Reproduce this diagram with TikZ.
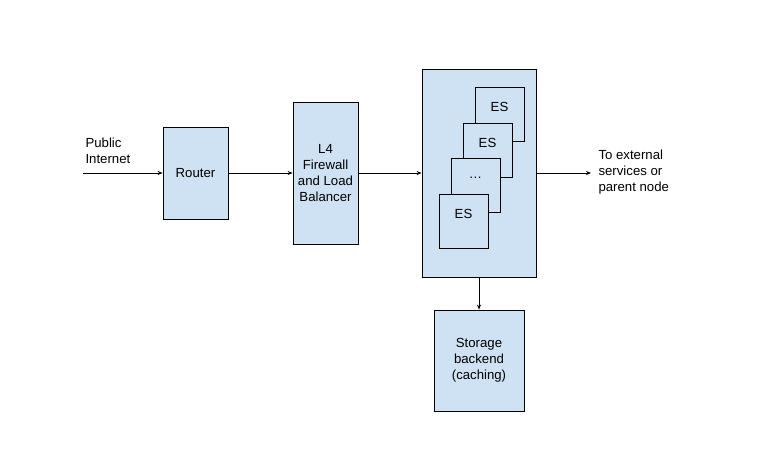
\documentclass[tikz,border=0pt]{standalone}
\usepackage{fontspec}
\setmainfont{Liberation Sans}
\usetikzlibrary{arrows.meta}
\definecolor{boxblue}{HTML}{CFE2F3}
\tikzset{
	box/.style={draw,fill=boxblue,line width=0.8pt,align=center,inner sep=2pt},
	esbox/.style={box,minimum width=49pt,minimum height=54pt},
	link/.style={line width=0.8pt,-{Stealth[length=5pt,width=4pt]}}
}
\begin{document}
\begin{tikzpicture}[x=1pt,y=1pt,font=\fontsize{13.2}{16}\selectfont]
	\useasboundingbox (0,0) rectangle (783,-467);
	\path
	(83,-173) coordinate (in)
	(591,-173) coordinate (out)
	;
	\node[box,minimum width=65pt,minimum height=92pt] (router) at (195.5,-173) {Router};
	\node[box,minimum width=65pt,minimum height=142pt] (fw) at (325.5,-173) {L4\\Firewall\\and Load\\Balancer};
	\node[box,minimum width=114pt,minimum height=208pt] (es) at (479,-173) {};
	\node[box,minimum width=90pt,minimum height=101pt] (store) at (479,-360.5) {Storage\\backend\\(caching)};
	% stacked ES instances, back to front
	\foreach \n/\x/\y/\t in {1/499.5/114.5/ES,2/487.5/150/ES,3/475.5/185.5/…,4/463.5/221/ES}
	\node[esbox,label={[anchor=center,yshift=-20pt]north:\t}] (es\n) at (\x,\y*-1) {};
	% labels
	\node[anchor=west,align=left] (pub) at (82,-151) {Public\\Internet};
	\node[anchor=west,align=left] (ext) at (595,-172) {To external\\services or\\parent node};
	% connectors
	\draw[link] (in) -- (router);
	\draw[link] (router) -- (fw);
	\draw[link] (fw) -- (es);
	\draw[link] (es) -- (out);
	\draw[link] (es) -- (store);
\end{tikzpicture}
\end{document}
